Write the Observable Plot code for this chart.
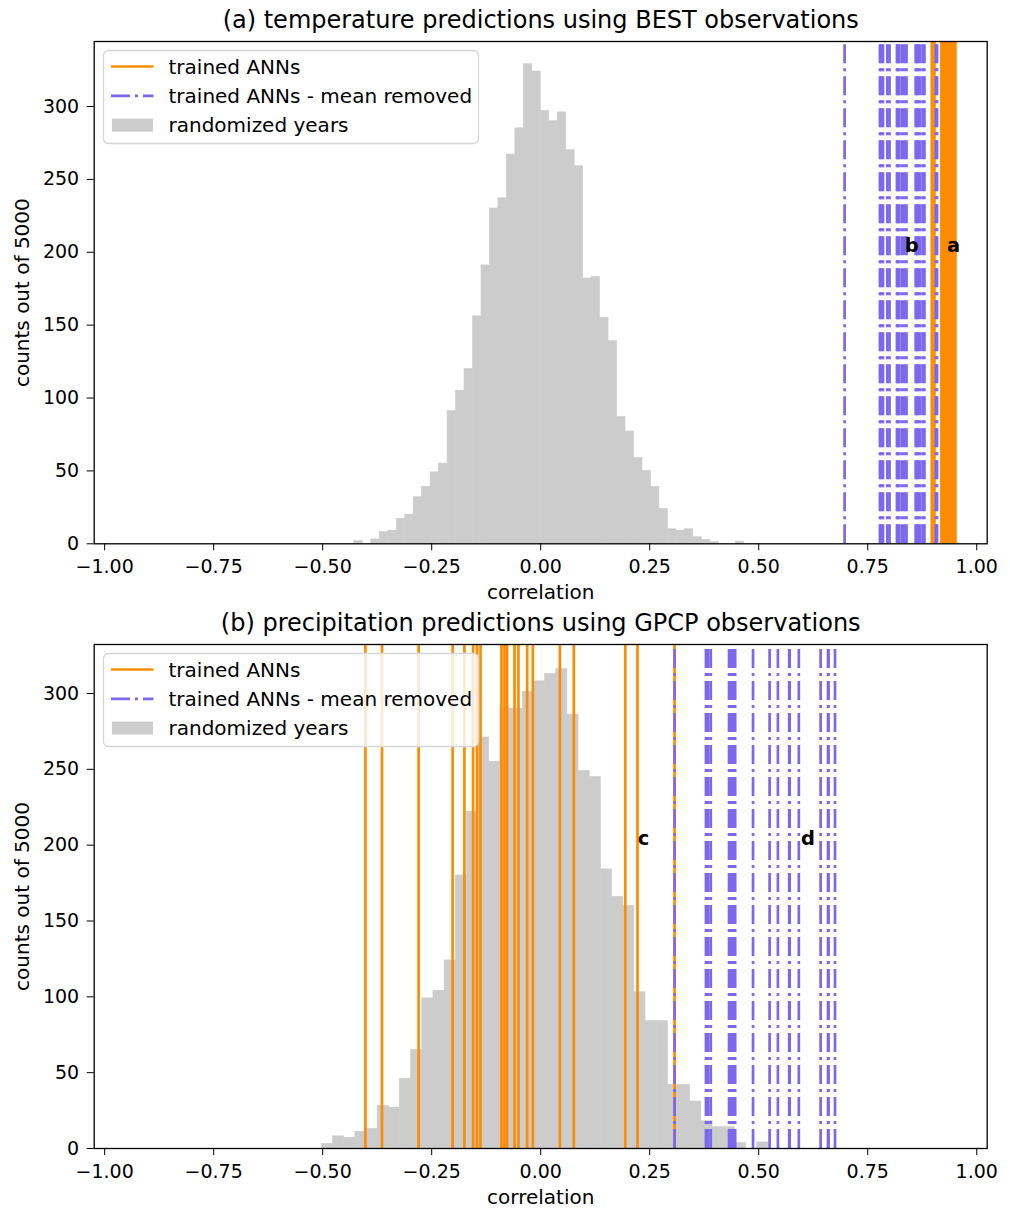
<!DOCTYPE html>
<html><head><meta charset="utf-8">
<script src="https://cdn.jsdelivr.net/npm/d3@7"></script>
<script src="https://cdn.jsdelivr.net/npm/@observablehq/plot@0.6"></script>
<style>
body{margin:0;background:#fff;font-family:"DejaVu Sans",sans-serif;}
#wrap{position:relative;width:1010px;height:1209px;overflow:hidden;}
.panel{position:absolute;left:0;width:1010px;}
.legend{position:absolute;}
</style></head><body><div id="wrap"></div>
<script>
// ---- data ----
const xTicks = [-1, -0.75, -0.5, -0.25, 0, 0.25, 0.5, 0.75, 1];
const yTicks = [0, 50, 100, 150, 200, 250, 300];

// (a) temperature: randomized-years histogram
const tempBinStart = -0.4273;
const tempBinWidth = 0.01943;
const tempCounts = [2, 0, 3, 8, 9, 17, 20, 32, 39, 49, 55, 91, 105, 120, 156, 191, 230, 237, 267, 285,
  329, 324, 297, 290, 296, 270, 259, 182, 183, 155, 139, 87, 77, 59, 50, 39, 24, 10, 9, 10,
  4.5, 2.7, 1.2, 0, 0, 1.5];
const tempANN = [0.897, 0.903, 0.919, 0.921, 0.924, 0.926, 0.928, 0.930, 0.932, 0.935, 0.937, 0.939,
  0.941, 0.943, 0.944, 0.946, 0.948, 0.949, 0.950, 0.951];
const tempANNmean = [0.697, 0.778, 0.781, 0.785, 0.795, 0.800, 0.817, 0.822, 0.828, 0.834, 0.839,
  0.860, 0.865, 0.870, 0.876, 0.880, 0.906, 0.909, 0.863, 0.819];
const tempLabels = [{x: 0.835, y: 200, t: "b"}, {x: 0.932, y: 200, t: "a"}];

// (b) precipitation
const precBinStart = -0.502;
const precBinWidth = 0.0256;
const precCounts = [3, 8, 7, 11, 13, 28, 27, 46, 65, 99, 104, 124, 180, 222, 271, 255, 290, 290, 301, 308,
  313, 316, 286, 249, 245, 184, 166, 160, 103, 84, 84, 42, 42, 31, 18, 14, 14, 3.5, 0, 4];
const precANN = [-0.402, -0.364, -0.280, -0.202, -0.175, -0.155, -0.146, -0.138, -0.090, -0.083,
  -0.077, -0.060, -0.051, -0.031, -0.018, 0.044, 0.076, 0.194, 0.222, 0.307];
const precANNmean = [0.307, 0.379, 0.384, 0.390, 0.432, 0.437, 0.441, 0.446, 0.487, 0.525, 0.544,
  0.571, 0.592, 0.642, 0.659, 0.675, 0.435, 0.381, 0.570, 0.660];
const precLabels = [{x: 0.2225, y: 200, t: "c"}, {x: 0.597, y: 200, t: "d"}];

// ---- style ----
const ORANGE = "#ff8c00", BLUE = "#7b68ee", GRAY = "#cccccc";
const DASH = "19,5,3,5";
const FONT = "DejaVu Sans";

function panel(o) {
  const bins = o.counts.map((c, i) => ({x1: o.binStart + i * o.binWidth, x2: o.binStart + (i + 1) * o.binWidth, c}));
  const fmt = d3.format(".2f");
  const svg = Plot.plot({
    width: 1010, height: o.height,
    marginTop: o.marginTop, marginBottom: o.marginBottom, marginLeft: 93.7, marginRight: 23.3,
    style: {fontFamily: FONT, fontSize: "19px", color: "#000", background: "transparent", overflow: "visible"},
    x: {domain: [-1.024, 1.024]},
    y: {domain: [0, o.yMax]},
    marks: [
      Plot.rectY(bins, {x1: "x1", x2: "x2", y: "c", fill: GRAY, stroke: GRAY, strokeWidth: 0.6, inset: 0}),
      Plot.ruleX(o.ann, {y1: 0, y2: o.yMax, stroke: ORANGE, strokeWidth: 2.7}),
      Plot.ruleX(o.annMean, {y1: 0, y2: o.yMax, stroke: BLUE, strokeWidth: 2.7, strokeDasharray: DASH}),
      Plot.text(o.labels, {x: "x", y: "y", text: "t", textAnchor: "start", lineAnchor: "bottom", fontWeight: "bold", fontSize: 19.5, fill: "#000"}),
      Plot.frame({stroke: "#000", strokeWidth: 1.3}),
      Plot.axisX({ticks: xTicks, tickFormat: fmt, tickSize: 7, tickPadding: 9, label: null, stroke: "#000"}),
      Plot.axisY({ticks: yTicks, tickSize: 7, tickPadding: 8, label: null, stroke: "#000"}),
      Plot.text(["correlation"], {frameAnchor: "bottom", lineAnchor: "middle", textAnchor: "middle", dy: 49, fontSize: 20, fill: "#000"}),
      Plot.text(["counts out of 5000"], {frameAnchor: "left", lineAnchor: "middle", textAnchor: "middle", dx: -72, rotate: -90, fontSize: 20, fill: "#000"}),
      Plot.text([o.title], {frameAnchor: "top", lineAnchor: "middle", textAnchor: "middle", dy: -21, fontSize: 24, fill: "#000"})
    ]
  });
  const div = document.createElement("div");
  div.className = "panel";
  div.style.top = o.top + "px";
  div.appendChild(svg);
  // legend
  const lg = document.createElementNS("http://www.w3.org/2000/svg", "svg");
  lg.setAttribute("width", 380); lg.setAttribute("height", 98);
  lg.setAttribute("class", "legend");
  lg.style.left = "101.5px"; lg.style.top = (o.marginTop + 7.5) + "px";
  const rows = [["trained ANNs", "line"], ["trained ANNs - mean removed", "dash"], ["randomized years", "patch"]];
  let inner = `<rect x="1.5" y="1.5" width="375" height="93" rx="5" fill="rgba(255,255,255,0.8)" stroke="#d6d6d6" stroke-width="1.3"/>`;
  rows.forEach(([t, k], i) => {
    const cy = 17.5 + i * 29.3;
    if (k === "line") inner += `<line x1="9" x2="51.5" y1="${cy}" y2="${cy}" stroke="${ORANGE}" stroke-width="2.7"/>`;
    if (k === "dash") inner += `<line x1="9" x2="51.5" y1="${cy}" y2="${cy}" stroke="${BLUE}" stroke-width="2.7" stroke-dasharray="${DASH}"/>`;
    if (k === "patch") inner += `<rect x="10" y="${cy - 6.5}" width="41" height="13" fill="${GRAY}"/>`;
    inner += `<text x="66.5" y="${cy}" dy="0.35em" font-family="${FONT}" font-size="20" fill="#000">${t}</text>`;
  });
  lg.innerHTML = inner;
  div.appendChild(lg);
  document.getElementById("wrap").appendChild(div);
}

panel({title: "(a) temperature predictions using BEST observations", counts: tempCounts, binStart: tempBinStart, binWidth: tempBinWidth,
  ann: tempANN, annMean: tempANNmean, labels: tempLabels, yMax: 344.6, top: 0, height: 604, marginTop: 41, marginBottom: 60.7});
panel({title: "(b) precipitation predictions using GPCP observations", counts: precCounts, binStart: precBinStart, binWidth: precBinWidth,
  ann: precANN, annMean: precANNmean, labels: precLabels, yMax: 332.3, top: 604, height: 605, marginTop: 40, marginBottom: 61});
</script></body></html>
